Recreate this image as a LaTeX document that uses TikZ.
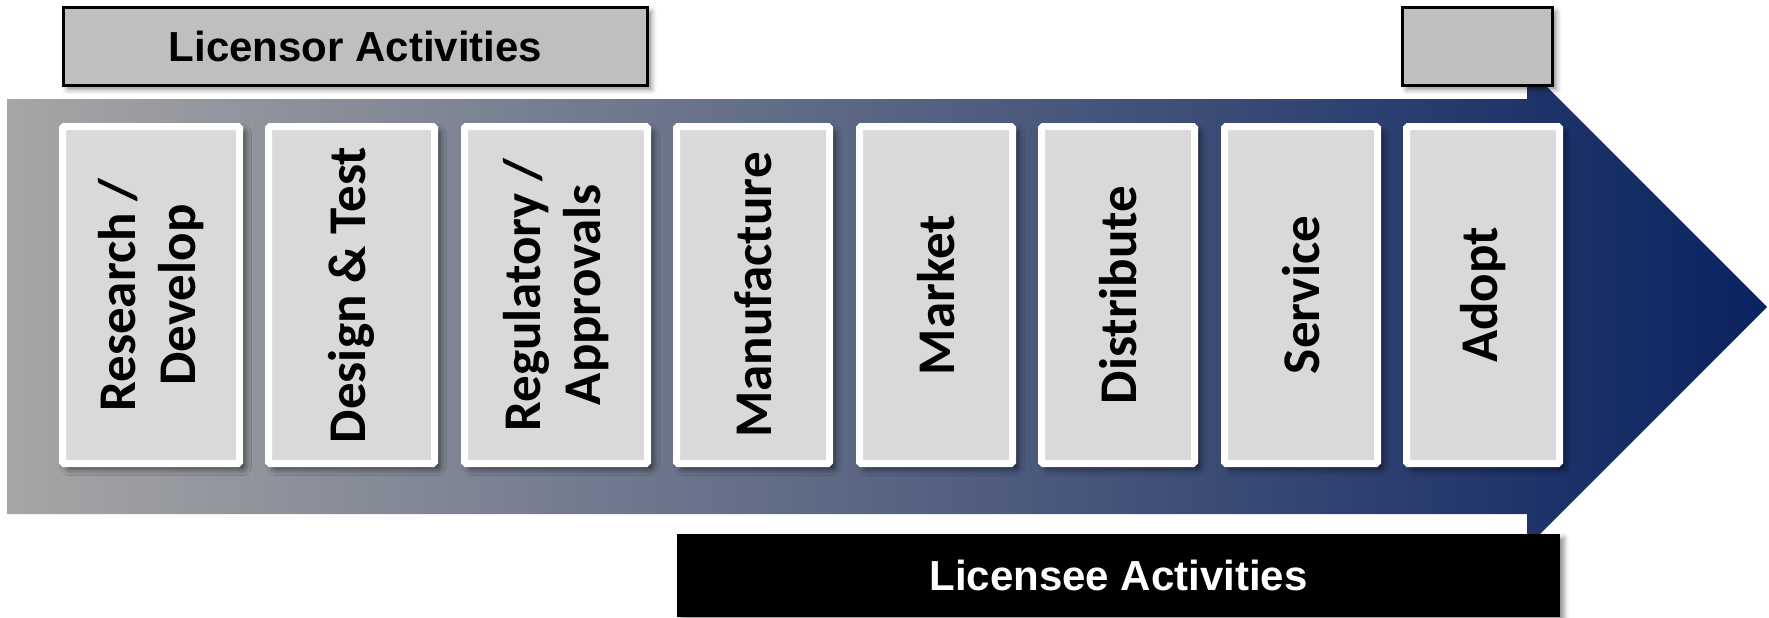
\documentclass[tikz,border=0pt]{standalone}
\usepackage{fontspec}
\newfontfamily\cardfont{Carlito}
\newfontfamily\headfont{Liberation Sans}
\usetikzlibrary{shadows.blur}

\definecolor{shaftgrey}{HTML}{A6A6A6}
\definecolor{shaftnavy}{HTML}{0A2260}
\definecolor{cardfill}{HTML}{D9D9D9}
\definecolor{tagfill}{HTML}{BFBFBF}

\begin{document}
\begin{tikzpicture}[x=0.5pt,y=-0.5pt,
  card/.style={draw=white, line width=3.5pt, fill=cardfill, rounded corners=0.8pt,
    inner sep=0pt, minimum height=168.5pt,
    blur shadow={shadow xshift=2.5pt, shadow yshift=-2.5pt,
      shadow blur radius=3.5pt, shadow opacity=65}},
  cardtext/.style={rotate=90, font=\cardfont\bfseries\fontsize{26.5}{30}\selectfont,
    align=center, text=black, inner sep=0pt},
  tag/.style={draw=black, line width=1.5pt, fill=tagfill, inner sep=0pt,
    minimum height=39pt,
    blur shadow={shadow xshift=2pt, shadow yshift=-2pt,
      shadow blur radius=2.5pt, shadow opacity=45}},
  tagtext/.style={font=\headfont\bfseries\fontsize{21}{25}\selectfont}]

\useasboundingbox (0,0) rectangle (1769,617);

% value-chain arrow with grey-to-navy gradient
\shade[left color=shaftgrey, right color=shaftnavy]
  (7,99) -- (1527,99) -- (1527,67) -- (1767,307) -- (1527,547)
  -- (1527,514) -- (7,514) -- cycle;

% stage cards
\node[card, minimum width=88.5pt] (c1) at (151,295) {};
\node[card, minimum width=83pt]   (c2) at (351.5,295) {};
\node[card, minimum width=91.5pt] (c3) at (556,295) {};
\node[card, minimum width=76.5pt] (c4) at (753,295) {};
\node[card, minimum width=76.5pt] (c5) at (936,295) {};
\node[card, minimum width=76.5pt] (c6) at (1118,295) {};
\node[card, minimum width=76.5pt] (c7) at (1301,295) {};
\node[card, minimum width=76.5pt] (c8) at (1483,295) {};

\node[cardtext] (t1) at (c1) {Research /\\Develop};
\node[cardtext] (t2) at (c2) {Design \& Test};
\node[cardtext] (t3) at (c3) {Regulatory /\\Approvals};
\node[cardtext] (t4) at (c4) {Manufacture};
\node[cardtext] (t5) at (c5) {Market};
\node[cardtext] (t6) at (c6) {Distribute};
\node[cardtext] (t7) at (c7) {Service};
\node[cardtext] (t8) at (c8) {Adopt};

% activity tags
\node[tag, tagtext, minimum width=292pt] (licensor) at (355.5,46.5)
  {Licensor Activities};
\node[tag, minimum width=75pt] (adopttag) at (1477.5,46.5) {};
\node[fill=black, inner sep=0pt, minimum width=441.5pt, minimum height=41.5pt,
  text=white, tagtext,
  blur shadow={shadow xshift=2pt, shadow yshift=-2pt,
    shadow blur radius=2.5pt, shadow opacity=45}]
  (licensee) at (1118.5,575.5) {Licensee Activities};

\end{tikzpicture}
\end{document}
